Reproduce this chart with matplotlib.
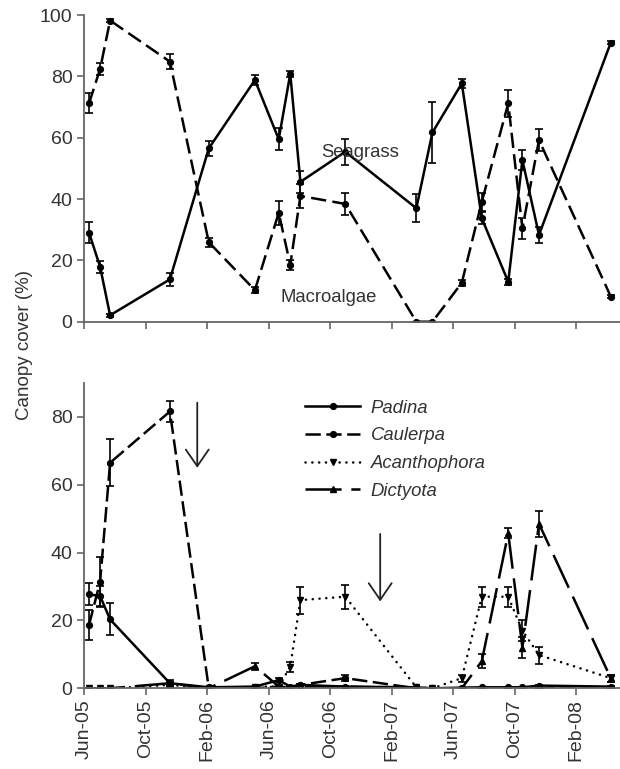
import matplotlib
matplotlib.use("Agg")
import matplotlib.pyplot as plt
from matplotlib.lines import Line2D

plt.rcParams['font.family'] = ['Liberation Sans', 'DejaVu Sans']
plt.rcParams['lines.scale_dashes'] = False

# sampling dates, months after 1 Jun 2005
months = [0.31, 1.03, 1.68, 5.57, 8.1, 11.1, 12.65, 13.4, 14.06, 16.98,
          21.6, 22.65, 24.56, 25.86, 27.58, 28.5, 29.58, 34.25]

tick_pos = [0, 4, 8, 12, 16, 20, 24, 28, 32]
tick_labels = ['Jun-05', 'Oct-05', 'Feb-06', 'Jun-06', 'Oct-06', 'Feb-07',
               'Jun-07', 'Oct-07', 'Feb-08']

# top panel
seagrass = [29.0, 17.9, 2.1, 13.8, 56.5, 78.8, 59.5, 80.8, 45.6, 55.4,
            37.0, 61.7, 77.7, 33.7, 13.0, 52.7, 28.3, 91.0]
seagrass_err = [3.5, 2.0, 0.5, 2.2, 2.5, 1.5, 3.5, 1.0, 3.5, 4.3,
                4.5, 10.0, 1.5, 2.0, 1.0, 3.3, 2.5, 0.5]
macroalgae = [71.2, 82.4, 98.2, 84.8, 25.9, 10.3, 35.5, 18.5, 41.0, 38.4,
              0.0, 0.0, 12.7, 39.1, 71.2, 30.4, 59.2, 8.2]
macroalgae_err = [3.3, 2.0, 0.5, 2.5, 1.5, 1.0, 4.0, 1.5, 4.0, 3.5,
                  0.0, 0.0, 1.0, 3.0, 4.5, 3.3, 3.5, 0.5]

# bottom panel
species = ['Padina', 'Caulerpa', 'Acanthophora', 'Dictyota']
padina = [27.7, 27.2, 20.3, 1.5, 0.3, 0.5, 2.4, 0.5, 1.0, 0.5,
          0.3, 0.0, 0.2, 0.3, 0.3, 0.3, 0.8, 0.5]
padina_err = [3.2, 3.0, 4.7, 1.0, 0, 0, 0.5, 0, 0.3, 0.3,
              0, 0, 0, 0, 0, 0, 0.3, 0.3]
caulerpa = [18.7, 31.4, 66.5, 81.6, 0.0, 0.0, 0.5, 0.2, 1.0, 3.0,
            0.0, 0.0, 0.0, 0.0, 0.0, 0.0, 0.0, 0.0]
caulerpa_err = [4.5, 7.4, 7.0, 3.2, 0, 0, 0.3, 0, 0.3, 0.8,
                0, 0, 0, 0, 0, 0, 0, 0]
acanthophora = [0.0, 0.0, 0.0, 1.0, 0.0, 0.5, 0.5, 6.4, 26.0, 27.0,
                0.3, 0.0, 3.0, 27.0, 27.0, 17.0, 9.8, 3.0]
acanthophora_err = [0, 0, 0, 0.5, 0, 0, 0, 1.5, 4.0, 3.5,
                    0, 0, 1.0, 3.0, 3.0, 3.0, 2.5, 1.0]
dictyota = [0.0, 0.0, 0.0, 1.5, 0.0, 6.5, 0.5, 0.0, 0.5, 0.5,
            0.0, 0.0, 0.0, 8.0, 45.7, 12.0, 48.5, 3.0]
dictyota_err = [0, 0, 0, 0.5, 0, 1.0, 0, 0, 0, 0,
                0, 0, 0, 2.0, 1.5, 3.0, 3.8, 1.0]

TXT = '#333333'
SP = '#666666'
W, H = 620, 769
fig = plt.figure(figsize=(W / 100, H / 100), dpi=100)

left = 83.5 / W
width = (W - 83.5) / W
ax1 = fig.add_axes([left, 1 - 321.7 / H, width, 306.7 / H])
ax2 = fig.add_axes([left, 1 - 688.3 / H, width, 305.3 / H])

eb = dict(capsize=2.6, elinewidth=1.2, capthick=1.2, markersize=4.2,
          color='black', lw=1.8)

ax1.errorbar(months, seagrass, yerr=seagrass_err, marker='o', ls='-', **eb)
ax1.errorbar(months, macroalgae, yerr=macroalgae_err, marker='o',
             dashes=(11, 4.5), **eb)
ax1.text(17.95, 55.3, 'Seagrass', ha='center', va='center', fontsize=13.3, color=TXT)
ax1.text(15.9, 8.0, 'Macroalgae', ha='center', va='center', fontsize=13.3, color=TXT)

styles = [dict(marker='o', ls='-'),
          dict(marker='o', dashes=(11, 4)),
          dict(marker='v', dashes=(0.1, 4.8), dash_capstyle='round'),
          dict(marker='^', dashes=(26, 7))]
series = [(padina, padina_err), (caulerpa, caulerpa_err),
          (acanthophora, acanthophora_err), (dictyota, dictyota_err)]
handles = []
for (vals, errs), st in zip(series, styles):
    ax2.errorbar(months, vals, yerr=errs, **st, **eb)
    handles.append(Line2D([], [], color='black', lw=1.8, markersize=4.2, **st))

leg = ax2.legend(handles, species,
                 loc='upper left', bbox_to_anchor=(0.399, 0.97), frameon=False,
                 prop={'size': 13.3, 'style': 'italic'}, handlelength=3.0,
                 handletextpad=0.55, labelspacing=0.58, borderaxespad=0)
for t in leg.get_texts():
    t.set_color(TXT)

arrow = dict(arrowstyle='->, head_length=0.8, head_width=0.55', lw=1.3,
             color='#222222', mutation_scale=15, shrinkA=0, shrinkB=0)
ax2.annotate('', xy=(7.35, 65.0), xytext=(7.35, 84.2), arrowprops=arrow)
ax2.annotate('', xy=(19.25, 25.6), xytext=(19.25, 45.5), arrowprops=arrow)

for ax, ymax, yt in [(ax1, 100, [0, 20, 40, 60, 80, 100]), (ax2, 90, [0, 20, 40, 60, 80])]:
    ax.set_xlim(-0.05, 34.85)
    ax.set_ylim(0, ymax)
    ax.set_yticks(yt)
    ax.set_xticks(tick_pos)
    for s in ['top', 'right']:
        ax.spines[s].set_visible(False)
    for s in ['left', 'bottom']:
        ax.spines[s].set_color(SP)
        ax.spines[s].set_linewidth(1.3)
    ax.tick_params(direction='out', length=5, width=1.2, color=SP,
                   labelsize=14, labelcolor=TXT, pad=3)

ax1.set_xticklabels([])
ax2.set_xticklabels(tick_labels, rotation=90)

fig.text(25 / W, 1 - 345 / H, 'Canopy cover (%)', rotation=90, ha='center',
         va='center', fontsize=13.5, color=TXT)

fig.savefig('out.png', dpi=100)
